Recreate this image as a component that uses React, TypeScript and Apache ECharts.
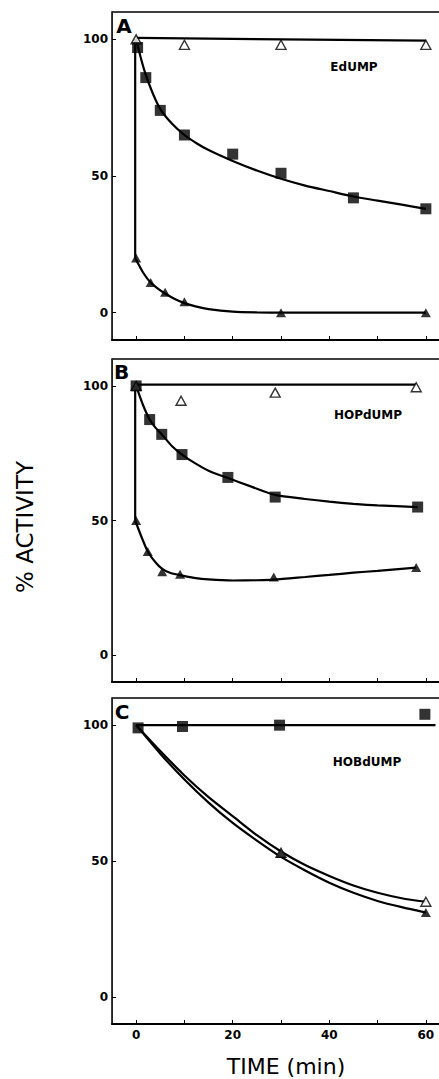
import React, { useEffect, useRef } from "react";
import * as echarts from "echarts";

// ---- tick labels ----
const xTicks = [0, 10, 20, 30, 40, 50, 60];
const xLabels = [0, 20, 40, 60];
const yLabels = [0, 50, 100];
const panelNames = ["EdUMP", "HOPdUMP", "HOBdUMP"];
const panelLetters = ["A", "B", "C"];

// ---- Panel A (EdUMP) ----
const aOpenPts = [[0, 100], [10, 98], [30, 98], [60, 98]];
const aOpenFit = [[0, 100.5], [60, 99.5]];
const aSqPts = [[0.3, 97], [2, 86], [5, 74], [10, 65], [20, 58], [30, 51], [45, 42], [60, 38]];
const aSqFit = [[0, 100], [1, 93], [2, 87], [3.5, 80], [5, 74.5], [7.5, 69], [10, 65], [12.5, 62], [15, 59.5], [20, 55.5], [25, 52], [30, 49], [35, 46.5], [40, 44.5], [45, 42.5], [50, 41], [55, 39.5], [60, 38]];
const aTriDrop = [[-0.2, 100], [-0.2, 20]];
const aTriPts = [[0, 20], [3, 11], [6, 7.5], [10, 4], [30, 0], [60, 0]];
const aTriFit = [[-0.2, 20], [1.5, 14.5], [3, 11], [4.5, 8.8], [6, 7], [8, 5], [10, 3.5], [12.5, 2.2], [15, 1.3], [20, 0.4], [25, 0.1], [30, 0], [45, 0], [60, 0]];

// ---- Panel B (HOPdUMP) ----
const bOpenPts = [[0, 100], [9.3, 94.5], [28.8, 97.5], [58, 99.5]];
const bOpenFit = [[0, 100.5], [58, 100.5]];
const bSqPts = [[0, 100], [2.8, 87.5], [5.3, 82], [9.5, 74.5], [19, 66], [28.8, 58.7], [58.3, 55]];
const bSqFit = [[0, 100], [1.4, 93], [2.8, 87.5], [4, 84.5], [5.3, 82], [7.5, 77.5], [9.5, 74.5], [12, 71.5], [15, 68.5], [19, 65.8], [24, 62.5], [28.8, 59.5], [35, 58], [40, 57], [45, 56.2], [50, 55.6], [58.3, 55]];
const bTriDrop = [[-0.2, 100], [-0.2, 50]];
const bTriPts = [[0, 50], [2.4, 38.5], [5.4, 31], [9.1, 30], [28.5, 29], [58, 32.5]];
const bTriFit = [[-0.2, 50], [1.2, 43.5], [2.4, 38.5], [4, 34.5], [5.4, 32], [7, 30.6], [9.1, 29.7], [12, 28.7], [15, 28.1], [20, 27.7], [25, 27.8], [28.5, 28], [35, 29], [40, 29.8], [45, 30.6], [50, 31.3], [58, 32.5]];

// ---- Panel C (HOBdUMP) ----
const cSqPts = [[0.4, 99], [9.6, 99.5], [29.7, 100], [59.8, 104]];
const cSqFit = [[0, 100], [62, 100]];
const cOpenPts = [[30, 53], [60, 35]];
const cOpenFit = [[0, 100], [5, 90.5], [10, 81.5], [15, 73.5], [20, 66.5], [25, 59.5], [30, 53.5], [35, 48.5], [40, 44.5], [45, 41], [50, 38.3], [55, 36.3], [60, 35]];
const cTriPts = [[30, 52.8], [60, 31]];
const cTriFit = [[0, 100], [5, 89.5], [10, 80], [15, 71.5], [20, 64], [25, 57.5], [30, 51.5], [35, 46.5], [40, 42], [45, 38.3], [50, 35.3], [55, 33], [60, 31]];

const FONT = "DejaVu Sans";

export default function App() {
  const ref = useRef<HTMLDivElement>(null);
  useEffect(() => {
    if (!ref.current) return;
    const chart = echarts.init(ref.current, null, { renderer: "svg" });

    const grids = [
      { left: 112, width: 338, top: 12, height: 328 },
      { left: 112, width: 338, top: 359, height: 323 },
      { left: 112, width: 338, top: 698, height: 326 },
    ].map((g) => ({ ...g, show: true, borderColor: "#000", borderWidth: 1.5, backgroundColor: "transparent" }));

    const xAxes = [0, 1, 2].map((i) => ({
      type: "value",
      gridIndex: i,
      min: -5,
      max: 65,
      axisLine: { show: true, onZero: false, lineStyle: { color: "#000", width: 2 } },
      axisTick: { show: true, inside: true, length: 4, customValues: xTicks, lineStyle: { color: "#000", width: 1 } },
      axisLabel: {
        show: i === 2,
        customValues: xLabels,
        color: "#000",
        fontFamily: FONT,
        fontWeight: "bold",
        fontSize: 12,
        margin: 5,
      },
      splitLine: { show: false },
    }));

    const yAxes = [0, 1, 2].map((i) => ({
      type: "value",
      gridIndex: i,
      min: -10,
      max: 110,
      axisLine: { show: true, onZero: false, lineStyle: { color: "#222", width: 1 } },
      axisTick: { show: true, inside: true, length: 4, customValues: yLabels, lineStyle: { color: "#000", width: 1 } },
      axisLabel: {
        customValues: yLabels,
        color: "#000",
        fontFamily: FONT,
        fontWeight: "bold",
        fontSize: 12,
        margin: 4,
      },
      splitLine: { show: false },
    }));

    const fit = (data: number[][], i: number, smooth = true) => ({
      type: "line",
      xAxisIndex: i,
      yAxisIndex: i,
      data,
      smooth: smooth ? 0.25 : false,
      showSymbol: false,
      symbol: "none",
      lineStyle: { color: "#000", width: 2.2 },
      z: 2,
      silent: true,
    });
    const pts = (data: number[][], i: number, kind: "sq" | "tri" | "open") => ({
      type: "scatter",
      xAxisIndex: i,
      yAxisIndex: i,
      data,
      symbol: kind === "sq" ? "rect" : "triangle",
      symbolSize: kind === "sq" ? 11 : [10, 9],
      itemStyle:
        kind === "open"
          ? { color: "#fff", borderColor: "#000", borderWidth: 1.4 }
          : { color: "#000" },
      z: kind === "open" ? 4 : 5,
      silent: true,
    });

    const series = [
      // A
      fit(aOpenFit, 0, false),
      fit(aSqFit, 0),
      fit(aTriDrop, 0, false),
      fit(aTriFit, 0),
      pts(aOpenPts, 0, "open"),
      pts(aSqPts, 0, "sq"),
      pts(aTriPts, 0, "tri"),
      // B
      fit(bOpenFit, 1, false),
      fit(bSqFit, 1),
      fit(bTriDrop, 1, false),
      fit(bTriFit, 1),
      pts(bOpenPts, 1, "open"),
      pts(bSqPts, 1, "sq"),
      pts(bTriPts, 1, "tri"),
      // C
      fit(cSqFit, 2, false),
      fit(cOpenFit, 2),
      fit(cTriFit, 2),
      pts(cOpenPts, 2, "open"),
      pts(cTriPts, 2, "tri"),
      pts(cSqPts, 2, "sq"),
    ];

    const letterPos = [[124, 26], [121.5, 372], [122, 712]];
    const namePos = [[354, 67], [368, 415], [367, 762]];
    const graphic: any[] = [];
    panelLetters.forEach((l, i) => {
      graphic.push({
        type: "text",
        x: letterPos[i][0],
        y: letterPos[i][1],
        style: { text: l, fill: "#000", font: `bold 20px '${FONT}'`, textAlign: "center", textVerticalAlign: "middle" },
      });
    });
    panelNames.forEach((n, i) => {
      graphic.push({
        type: "text",
        x: namePos[i][0],
        y: namePos[i][1],
        style: { text: n, fill: "#000", font: `bold 12px '${FONT}'`, textAlign: "center", textVerticalAlign: "middle" },
      });
    });
    graphic.push({
      type: "text",
      x: 25,
      y: 527,
      rotation: Math.PI / 2,
      style: { text: "% ACTIVITY", fill: "#000", font: `23px '${FONT}'`, textAlign: "center", textVerticalAlign: "middle" },
    });
    graphic.push({
      type: "text",
      x: 286,
      y: 1066,
      style: { text: "TIME (min)", fill: "#000", font: `22px '${FONT}'`, textAlign: "center", textVerticalAlign: "middle" },
    });

    chart.setOption({
      animation: false,
      backgroundColor: "#fff",
      grid: grids,
      xAxis: xAxes,
      yAxis: yAxes,
      series,
      graphic,
    });
    return () => chart.dispose();
  }, []);
  return (
    <div style={{ position: "absolute", left: 0, top: 0, width: 439, height: 1079, overflow: "hidden", background: "#fff" }}>
      <div ref={ref} style={{ width: 460, height: 1079 }} />
    </div>
  );
}
